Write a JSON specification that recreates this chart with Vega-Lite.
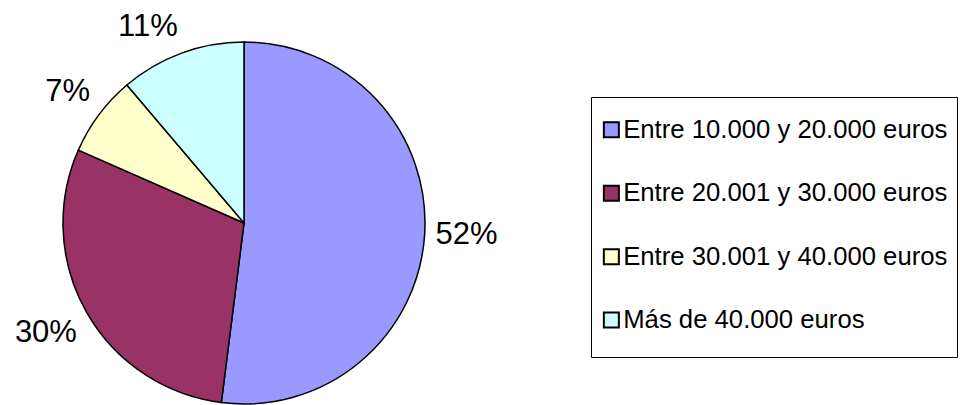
{
  "$schema": "https://vega.github.io/schema/vega-lite/v6.json",
  "width": 488,
  "height": 364,
  "autosize": {"type": "none"},
  "padding": {"top": 41, "left": 0, "right": 472, "bottom": 0},
  "background": "white",
  "config": {"view": {"stroke": null}, "font": "Liberation Sans"},
  "data": {
    "values": [
      {"category": "Entre 10.000 y 20.000 euros", "share": 52.0, "label": "52%"},
      {"category": "Entre 20.001 y 30.000 euros", "share": 29.6, "label": "30%"},
      {"category": "Entre 30.001 y 40.000 euros", "share": 7.2, "label": "7%"},
      {"category": "Más de 40.000 euros", "share": 11.2, "label": "11%"}
    ]
  },
  "encoding": {
    "theta": {"field": "share", "type": "quantitative", "stack": true},
    "order": {"field": "category", "type": "ordinal"}
  },
  "layer": [
    {
      "mark": {"type": "arc", "outerRadius": 181, "stroke": "black", "strokeWidth": 1.5},
      "encoding": {
        "color": {
          "field": "category",
          "type": "nominal",
          "scale": {
            "domain": ["Entre 10.000 y 20.000 euros", "Entre 20.001 y 30.000 euros", "Entre 30.001 y 40.000 euros", "Más de 40.000 euros"],
            "range": ["#9999FF", "#993366", "#FFFFCC", "#CCFFFF"]
          },
          "legend": {
            "title": " ",
            "titleFontSize": 6,
            "titlePadding": 5,
            "orient": "none",
            "legendX": 591,
            "legendY": 56,
            "direction": "vertical",
            "columns": 1,
            "padding": 9,
            "strokeColor": "black",
            "fillColor": "white",
            "symbolType": "M0,-2.8M-1,-1H1V1H-1ZM0,3.07",
            "symbolSize": 225,
            "symbolStrokeColor": "black",
            "symbolStrokeWidth": 2,
            "symbolOffset": -1.5,
            "labelFontSize": 25.7,
            "labelFont": "Liberation Sans",
            "labelColor": "black",
            "labelOffset": -1,
            "labelLimit": 500,
            "rowPadding": 10.4,
            "encode": {
              "symbols": {"update": {"stroke": {"value": "black"}, "strokeWidth": {"value": 2}}}
            }
          }
        }
      }
    },
    {
      "mark": {
        "type": "text",
        "radius": 192,
        "fontSize": 31,
        "font": "Liberation Sans",
        "color": "black",
        "align": {"expr": "datum.share_start + datum.share_end < 100 ? 'left' : 'right'"},
        "baseline": {"expr": "cos(PI * (datum.share_start + datum.share_end) / 100) > 0.2 ? 'bottom' : (cos(PI * (datum.share_start + datum.share_end) / 100) < -0.2 ? 'top' : 'middle')"}
      },
      "encoding": {
        "text": {"field": "label"},
        "detail": {"field": "category"}
      }
    }
  ]
}
